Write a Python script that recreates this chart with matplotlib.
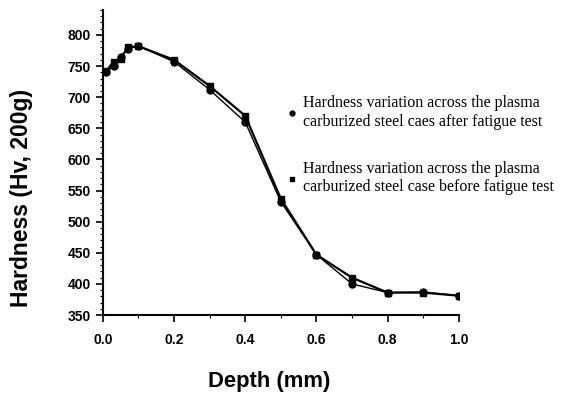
import matplotlib.pyplot as plt
from matplotlib.ticker import MultipleLocator
from matplotlib.lines import Line2D

depth = [0.01, 0.03, 0.05, 0.07, 0.1, 0.2, 0.3, 0.4, 0.5, 0.6, 0.7, 0.8, 0.9, 1.0]
after_test = [740, 750, 765, 778, 782, 757, 712, 660, 532, 447, 400, 386, 387, 381]
before_test = [742, 757, 762, 780, 782, 760, 718, 670, 537, 447, 410, 386, 386, 381]

label_after = "Hardness variation across the plasma\ncarburized steel caes after fatigue test"
label_before = "Hardness variation across the plasma\ncarburized steel case before fatigue test"

fig = plt.figure(figsize=(5.65, 3.94), dpi=100)
ax = fig.add_axes([0.182, 0.2005, 0.63, 0.774])

ax.plot(depth, before_test, color="black", lw=1.6, marker="s", ms=5)
ax.plot(depth, after_test, color="black", lw=1.0, marker="o", ms=5)

ax.set_xlim(0, 1.0)
ax.set_ylim(350, 840)
ax.set_xticks([0.0, 0.2, 0.4, 0.6, 0.8, 1.0])
ax.set_yticks(range(350, 801, 50))
ax.xaxis.set_minor_locator(MultipleLocator(0.1))
ax.yaxis.set_minor_locator(MultipleLocator(10))
ax.spines["top"].set_visible(False)
ax.spines["right"].set_visible(False)
ax.spines["left"].set_linewidth(1.5)
ax.spines["bottom"].set_linewidth(1.5)
ax.tick_params(which="major", direction="out", length=5, width=1.2)
ax.tick_params(axis="x", which="major", pad=8)
ax.tick_params(which="minor", direction="out", length=2.5, width=0.8)
for lab in ax.get_xticklabels() + ax.get_yticklabels():
    lab.set_fontfamily("Liberation Sans")
    lab.set_fontweight("bold")
    lab.set_fontsize(10)

ax.set_xlabel("Depth (mm)", fontfamily="Liberation Sans", fontweight="bold", fontsize=15.8)
ax.set_ylabel("Hardness (Hv, 200g)", fontfamily="Liberation Sans", fontweight="bold", fontsize=16.5)
ax.xaxis.set_label_coords(0.466, -0.183)
ax.yaxis.set_label_coords(-0.197, 0.384)

handles = [
    Line2D([], [], ls="none", marker="o", color="black", ms=3.5),
    Line2D([], [], ls="none", marker="s", color="black", ms=3.5),
]
fig.legend(handles, [label_after, label_before], loc="upper left",
           bbox_to_anchor=(274 / 565, 1 - 81 / 394), frameon=False,
           prop={"family": "Liberation Serif", "size": 11.5},
           handlelength=0.5, handletextpad=0.4, labelspacing=1.95)

fig.savefig("out.png", dpi=100)
